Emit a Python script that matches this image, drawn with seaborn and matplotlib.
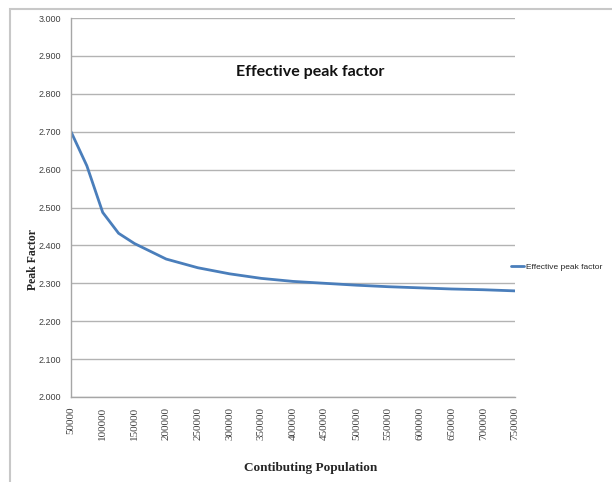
import numpy as np
import pandas as pd
import seaborn as sns
import matplotlib.pyplot as plt
from matplotlib.patches import Rectangle
from matplotlib.ticker import FormatStrFormatter

# values
population = [50000, 75000, 100000, 125000, 150000, 200000, 250000, 300000,
              350000, 400000, 450000, 500000, 550000, 600000, 650000,
              700000, 750000]
peak_factor = [2.700, 2.610, 2.487, 2.432, 2.405, 2.364, 2.341, 2.325,
               2.313, 2.305, 2.300, 2.295, 2.291, 2.288, 2.285, 2.283, 2.280]
x_ticks = list(range(50000, 750001, 50000))
y_ticks = [2.0, 2.1, 2.2, 2.3, 2.4, 2.5, 2.6, 2.7, 2.8, 2.9, 3.0]

df = pd.DataFrame({'Population': population, 'Peak Factor': peak_factor})

sns.set_style('white')
fig = plt.figure(figsize=(6.12, 4.82), dpi=100)
ax = fig.add_axes([71/612, 1 - 397/482, 444/612, 379/482])

sns.lineplot(data=df, x='Population', y='Peak Factor', ax=ax,
             color='#4a7ebb', linewidth=2, label='Effective peak factor')

ax.set_xlim(50000, 750000)
ax.set_ylim(2.0, 3.0)
ax.set_xticks(x_ticks)
ax.set_xticklabels([str(v) for v in x_ticks], rotation=90,
                   family='Liberation Serif', fontsize=8, color='#404040')
ax.set_yticks(y_ticks)
ax.yaxis.set_major_formatter(FormatStrFormatter('%.3f'))
for t in ax.get_yticklabels():
    t.set_family('Liberation Sans')
    t.set_fontsize(6.5)
    t.set_color('#404040')

ax.grid(axis='y', color='#b3b3b3', linewidth=1)
ax.set_axisbelow(True)
for s in ['top', 'right']:
    ax.spines[s].set_visible(False)
for s in ['left', 'bottom']:
    ax.spines[s].set_color('#a6a6a6')
    ax.spines[s].set_linewidth(1)
ax.tick_params(axis='both', length=4, width=1, color='#a6a6a6',
               direction='out', pad=3)

ax.set_xlabel('Contibuting Population', family='Liberation Serif',
              fontweight='bold', fontsize=9.5)
ax.xaxis.set_label_coords((311 - 71) / 444, (397 - 468) / 379)
ax.set_ylabel('Peak Factor', family='Liberation Serif',
              fontweight='bold', fontsize=8.5)
ax.yaxis.set_label_coords((33 - 71) / 444, (397 - 260) / 379)
ax.xaxis.label.set_va('center')
ax.yaxis.label.set_va('center')

fig.text(310/612, 1 - 72/482, 'Effective peak factor', ha='center',
         va='center', family='Lato', fontweight='bold', fontsize=11.5,
         color='#111111')

ax.get_legend().remove()
leg = fig.legend(loc='center left', bbox_to_anchor=(511/612, 1 - 267/482),
                 frameon=False, handlelength=1.6, handletextpad=0.2,
                 borderaxespad=0, borderpad=0,
                 prop={'family': 'Liberation Sans', 'size': 6})

# outer chart border
fig.patches.append(Rectangle((10/612, -0.1), 1.1, 1 - 9/482 + 0.1,
                             transform=fig.transFigure, fill=False,
                             edgecolor='#c8c8c8', linewidth=1.5))

plt.savefig('out.png', dpi=100)
